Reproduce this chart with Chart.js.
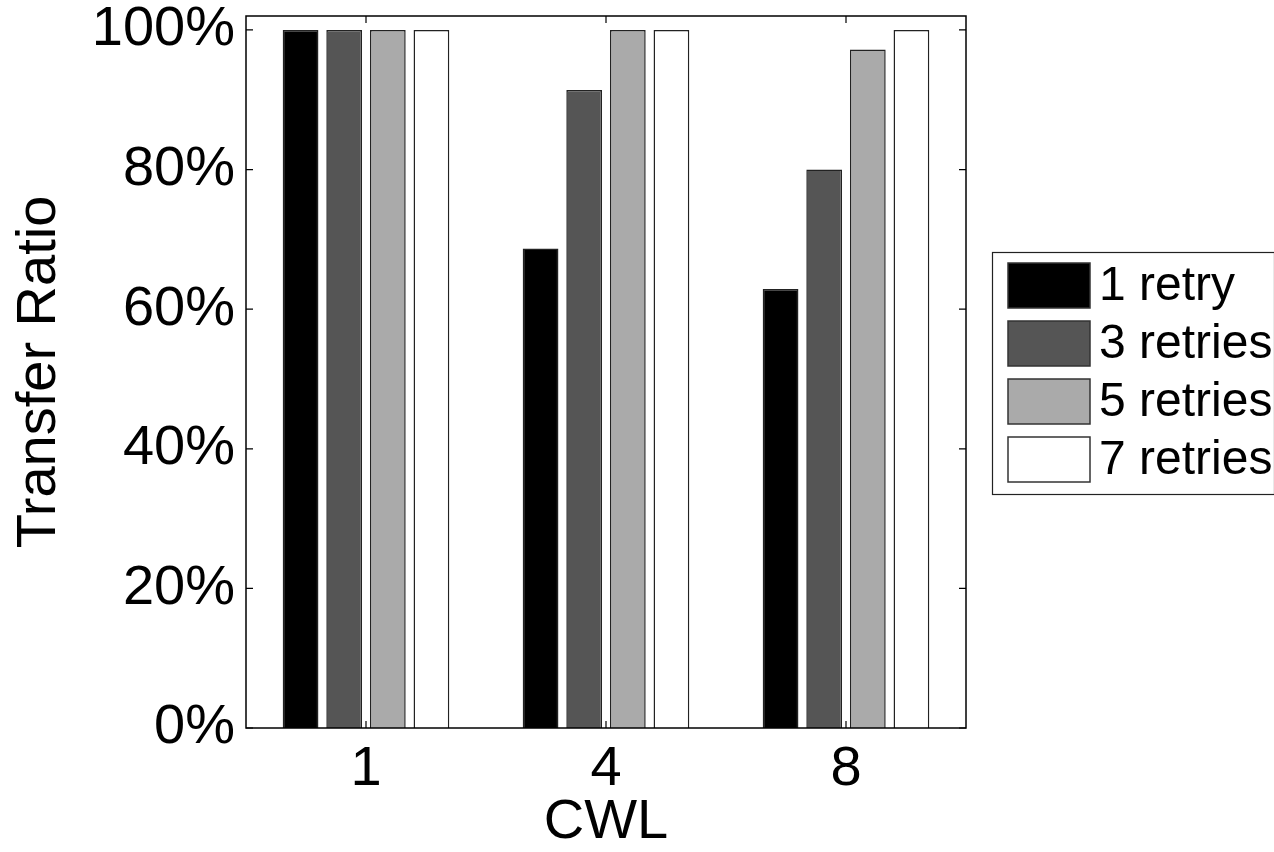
<!DOCTYPE html>
<html>
<head>
<meta charset="utf-8">
<script src="https://cdn.jsdelivr.net/npm/chart.js@4"></script>
<style>
  html, body { margin: 0; padding: 0; background: #ffffff; }
  #wrap { width: 1274px; height: 852px; position: relative; }
</style>
</head>
<body>
<div id="wrap"><canvas id="c" width="1274" height="852"></canvas></div>
<script>
// ---- data ----
const categories = ['1', '4', '8'];
const seriesLabels = ['1 retry', '3 retries', '5 retries', '7 retries'];
const retry1 = [100, 68.7, 62.9];
const retry3 = [100, 91.4, 80.0];
const retry5 = [100, 100, 97.2];
const retry7 = [100, 100, 100];
const yTicks = [0, 20, 40, 60, 80, 100];
const xTitle = 'CWL';
const yTitle = 'Transfer Ratio';

const colors = ['#000000', '#555555', '#aaaaaa', '#ffffff'];
const FONT = '"Liberation Sans", Arial, Helvetica, sans-serif';

const framePlugin = {
  id: 'frame',
  afterDatasetsDraw(chart) {
    const ctx = chart.ctx;
    const a = chart.chartArea;
    const xs = chart.scales.x, ys = chart.scales.y;
    ctx.save();
    ctx.strokeStyle = '#000000';
    ctx.lineWidth = 1.5;
    ctx.strokeRect(a.left, a.top, a.right - a.left, a.bottom - a.top);
    ctx.lineWidth = 1.2;
    const tl = 7;
    ctx.beginPath();
    ys.ticks.forEach(t => {
      const y = ys.getPixelForValue(t.value);
      ctx.moveTo(a.left, y); ctx.lineTo(a.left + tl, y);
      ctx.moveTo(a.right, y); ctx.lineTo(a.right - tl, y);
    });
    categories.forEach((c, i) => {
      const x = xs.getPixelForValue(i);
      ctx.moveTo(x, a.bottom); ctx.lineTo(x, a.bottom - tl);
      ctx.moveTo(x, a.top); ctx.lineTo(x, a.top + tl);
    });
    ctx.stroke();
    ctx.restore();
  }
};

const legendPlugin = {
  id: 'boxLegend',
  afterDraw(chart) {
    const ctx = chart.ctx;
    const a = chart.chartArea;
    const left = a.right + 26;
    const top = 252;
    const w = 282, h = 242;
    ctx.save();
    ctx.fillStyle = '#ffffff';
    ctx.fillRect(left, top, w, h);
    ctx.strokeStyle = '#222222';
    ctx.lineWidth = 1.2;
    ctx.strokeRect(left + 0.5, top + 0.5, w, h);
    ctx.font = '48px ' + FONT;
    ctx.textBaseline = 'middle';
    ctx.textAlign = 'left';
    chart.data.datasets.forEach((ds, i) => {
      const sy = top + 11 + i * 58;
      ctx.fillStyle = ds.backgroundColor;
      ctx.fillRect(left + 16, sy, 82, 45);
      ctx.strokeStyle = '#333333';
      ctx.lineWidth = 1.5;
      ctx.strokeRect(left + 16, sy, 82, 45);
      ctx.fillStyle = '#000000';
      ctx.fillText(ds.label, left + 107, sy + 24);
    });
    ctx.restore();
  }
};

const datasets = [retry1, retry3, retry5, retry7].map((vals, i) => ({
  label: seriesLabels[i],
  data: vals,
  backgroundColor: colors[i],
  borderColor: '#222222',
  borderWidth: 1.5,
  categoryPercentage: 0.727,
  barPercentage: 0.82
}));

new Chart(document.getElementById('c'), {
  type: 'bar',
  data: { labels: categories, datasets },
  options: {
    responsive: false,
    animation: false,
    devicePixelRatio: 1,
    layout: { padding: { top: 16, left: 0, right: 308, bottom: 0 } },
    plugins: { legend: { display: false }, tooltip: { enabled: false } },
    scales: {
      x: {
        grid: { display: false, drawTicks: false },
        border: { display: false },
        ticks: { color: '#000', font: { family: FONT, size: 56, lineHeight: 1.2 }, padding: 8, maxRotation: 0 },
        title: { display: true, text: xTitle, color: '#000', font: { family: FONT, size: 56, lineHeight: 1 }, padding: { top: 0, bottom: 1 } },
        afterFit(s) { s.height = 124; s.paddingLeft = 0; s.paddingRight = 0; }
      },
      y: {
        min: 0,
        max: 102,
        grid: { display: false, drawTicks: false },
        border: { display: false },
        ticks: {
          color: '#000',
          font: { family: FONT, size: 56, lineHeight: 1 },
          padding: 11,
          callback: v => v + '%'
        },
        afterBuildTicks(s) { s.ticks = yTicks.map(v => ({ value: v })); },
        title: { display: true, text: yTitle, color: '#000', font: { family: FONT, size: 56, lineHeight: 1 }, padding: { top: 12, bottom: 0 } },
        afterFit(s) { s.width = 246; s.paddingTop = 0; s.paddingBottom = 0; }
      }
    }
  },
  plugins: [framePlugin, legendPlugin]
});
</script>
</body>
</html>
